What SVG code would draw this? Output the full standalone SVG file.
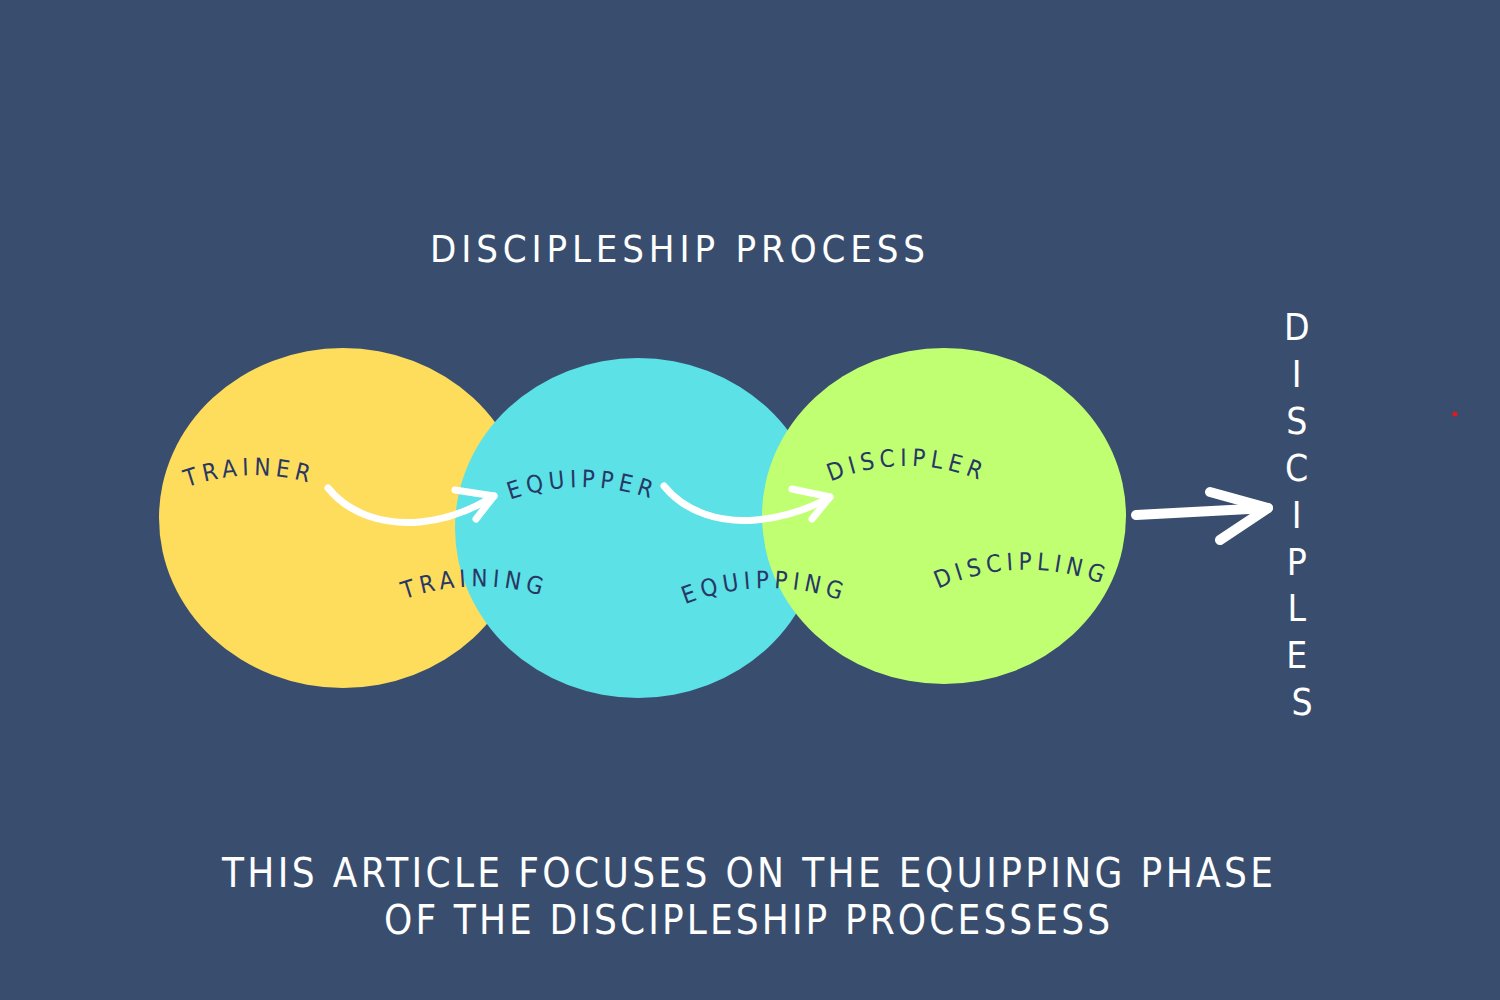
<svg xmlns="http://www.w3.org/2000/svg" width="1500" height="1000" viewBox="0 0 1500 1000">
  <style>
    .bg { fill: #394e6e; }
    .lbl { font-family: "Liberation Sans Narrow", "DejaVu Sans Condensed", "Liberation Sans", sans-serif; font-size: 24px; fill: #283865; letter-spacing: 5px; }
    .title { font-family: "Liberation Sans Narrow", "DejaVu Sans Condensed", "Liberation Sans", sans-serif; fill: #ffffff; }
    .arrow { fill: none; stroke: #ffffff; stroke-linecap: round; stroke-linejoin: round; }
  </style>
  <defs>
    <path id="pTrainer" d="M 180 490 A 200 200 0 0 1 320 486"/>
    <path id="pEquipper" d="M 505 502 A 210 210 0 0 1 660 502"/>
    <path id="pDiscipler" d="M 822 486 A 190 190 0 0 1 992 486"/>
    <path id="pTraining" d="M 395 603 A 220 220 0 0 1 555 600"/>
    <path id="pEquipping" d="M 677 608 A 220 220 0 0 1 853 605"/>
    <path id="pDiscipling" d="M 928 594 A 210 210 0 0 1 1116 590"/>
  </defs>
  <rect class="bg" x="0" y="0" width="1500" height="1000"/>

  <text id="title" class="title" x="430" y="262" font-size="38" textLength="495" lengthAdjust="spacing">DISCIPLESHIP PROCESS</text>

  <g id="node-yellow">
    <ellipse cx="343" cy="518" rx="184" ry="170" fill="#ffdd5c"/>
  </g>
  <g id="node-cyan">
    <ellipse cx="638" cy="528" rx="183" ry="170" fill="#5ce1e6"/>
  </g>
  <g id="node-green">
    <ellipse cx="944" cy="516" rx="182" ry="168" fill="#c1ff72"/>
  </g>

  <g id="labels">
    <text class="lbl"><textPath href="#pTrainer" startOffset="50%" text-anchor="middle">TRAINER</textPath></text>
    <text class="lbl"><textPath href="#pEquipper" startOffset="50%" text-anchor="middle">EQUIPPER</textPath></text>
    <text class="lbl"><textPath href="#pDiscipler" startOffset="50%" text-anchor="middle">DISCIPLER</textPath></text>
    <text class="lbl"><textPath href="#pTraining" startOffset="50%" text-anchor="middle">TRAINING</textPath></text>
    <text class="lbl"><textPath href="#pEquipping" startOffset="50%" text-anchor="middle">EQUIPPING</textPath></text>
    <text class="lbl"><textPath href="#pDiscipling" startOffset="50%" text-anchor="middle">DISCIPLING</textPath></text>
  </g>

  <g id="connectors">
    <path class="arrow" stroke-width="7" d="M 328 488 C 350 515 385 525 420 522 C 450 519 475 508 494 496"/>
    <path class="arrow" stroke-width="7" d="M 455 490 L 494 496 L 476 519"/>
    <path class="arrow" stroke-width="7" d="M 664 486 C 686 513 721 523 756 520 C 786 517 811 508 830 497"/>
    <path class="arrow" stroke-width="7" d="M 792 489 L 830 497 L 812 519"/>
    <path class="arrow" stroke-width="10" d="M 1136 515 L 1268 508"/>
    <path class="arrow" stroke-width="10" d="M 1210 492 L 1268 508 L 1220 540"/>
  </g>

  <g id="node-disciples">
    <text class="title" font-size="37" text-anchor="middle">
      <tspan x="1302" y="340">D</tspan>
      <tspan x="1302" y="387">I</tspan>
      <tspan x="1302" y="434">S</tspan>
      <tspan x="1302" y="481">C</tspan>
      <tspan x="1302" y="528">I</tspan>
      <tspan x="1302" y="575">P</tspan>
      <tspan x="1302" y="621">L</tspan>
      <tspan x="1302" y="668">E</tspan>
      <tspan x="1302" y="715">S</tspan>
    </text>
  </g>

  <circle cx="1455" cy="414" r="2.5" fill="#e0191e"/>

  <g id="footer">
    <text class="title" x="222" y="887" font-size="40" textLength="1051" lengthAdjust="spacing">THIS ARTICLE FOCUSES ON THE EQUIPPING PHASE</text>
    <text class="title" x="384" y="934" font-size="40" textLength="726" lengthAdjust="spacing">OF THE DISCIPLESHIP PROCESSESS</text>
  </g>
</svg>
